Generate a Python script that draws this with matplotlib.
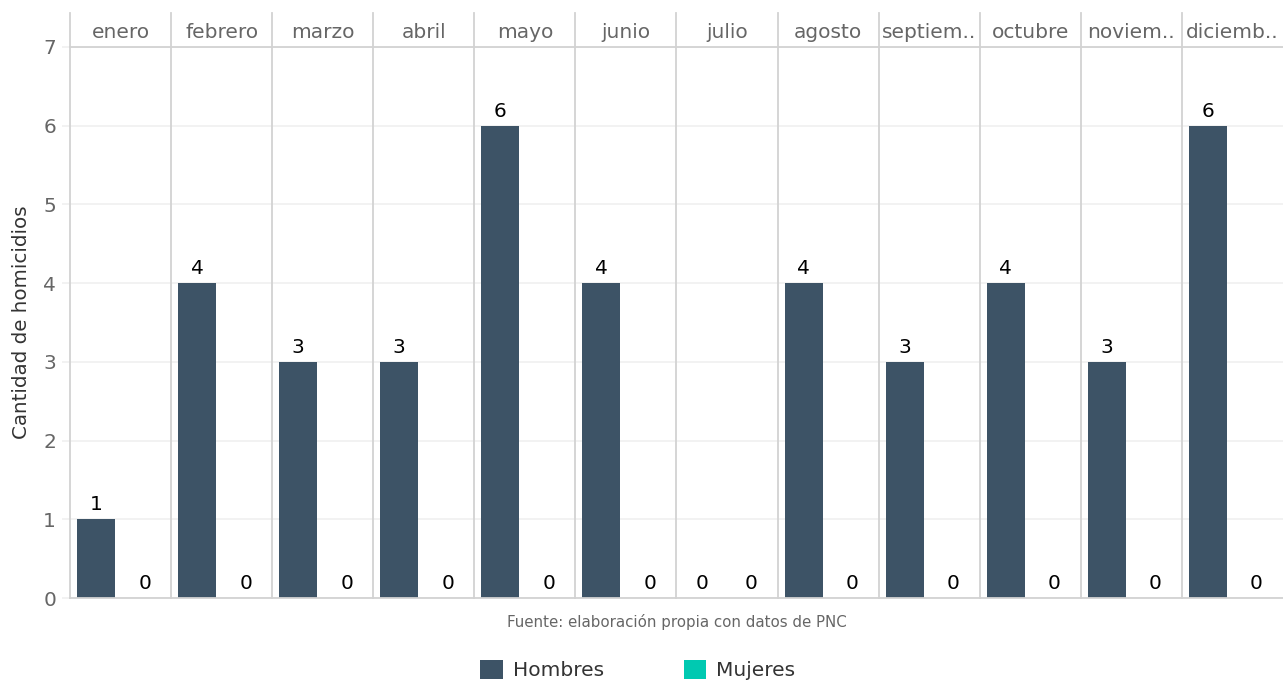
import numpy as np
import matplotlib.pyplot as plt
from matplotlib.patches import Patch
from matplotlib.lines import Line2D

meses = ["enero", "febrero", "marzo", "abril", "mayo", "junio", "julio",
         "agosto", "septiem..", "octubre", "noviem..", "diciemb.."]
hombres = [1, 4, 3, 3, 6, 4, 0, 4, 3, 4, 3, 6]
mujeres = [0, 0, 0, 0, 0, 0, 0, 0, 0, 0, 0, 0]
series = ["Hombres", "Mujeres"]
colores = ["#3d5366", "#00c9b1"]

W, H = 1283, 683
fig = plt.figure(figsize=(W / 100, H / 100), dpi=100)

x0, x1 = 70, 1283
ytop, ybot = 47, 598
pw = (x1 - x0) / 12
linea = "#d2d2d2"
grid = "#f0f0f0"
fs = 14.5

for i, mes in enumerate(meses):
    ax = fig.add_axes([(x0 + i * pw) / W, 1 - ybot / H, pw / W, (ybot - ytop) / H])
    vals = [hombres[i], mujeres[i]]
    xs = np.arange(2)
    ax.bar(xs, vals, width=0.78, color=colores, zorder=2)
    for x, v in zip(xs, vals):
        ax.annotate(str(v), (x, v), xytext=(0, 3.5), textcoords="offset points",
                    ha="center", va="bottom", fontsize=fs, color="black")
    ax.set_xlim(-0.535, 1.545)
    ax.set_ylim(0, 7)
    ax.set_yticks(range(8))
    ax.yaxis.grid(True, color=grid, lw=1.2, zorder=0)
    ax.set_xticks([])
    ax.spines["right"].set_visible(False)
    for s in ["left", "bottom", "top"]:
        ax.spines[s].set_color(linea)
        ax.spines[s].set_linewidth(1.3)
    ax.tick_params(axis="y", length=6, color=grid, width=1.2, labelsize=fs,
                   labelcolor="#666666", pad=4)
    if i > 0:
        ax.tick_params(axis="y", length=0, labelleft=False)
    else:
        ax.set_ylabel("Cantidad de homicidios", fontsize=14.3, color="#333333", labelpad=9)
    # franja superior
    ax.add_line(Line2D([0, 0], [1, 1 + 34 / (ybot - ytop)], transform=ax.transAxes,
                       color=linea, lw=1.3, clip_on=False))
    ax.text(0.5, 1 + 14.5 / (ybot - ytop), mes, transform=ax.transAxes, ha="center",
            va="center", fontsize=fs, color="#666666")

fig.text((x0 + x1) / 2 / W, 1 - 622 / H, "Fuente: elaboración propia con datos de PNC",
         ha="center", va="center", fontsize=10.8, color="#666666")

handles = [Patch(facecolor=c, edgecolor="none") for c in colores]
fig.legend(handles, series, loc="center", bbox_to_anchor=(638 / W, 1 - 670 / H),
           ncol=2, frameon=False, fontsize=14.5, handlelength=1.1, handleheight=1.1,
           handletextpad=0.5, columnspacing=4.0, labelcolor="#333333")

fig.savefig("out.png", dpi=100)
